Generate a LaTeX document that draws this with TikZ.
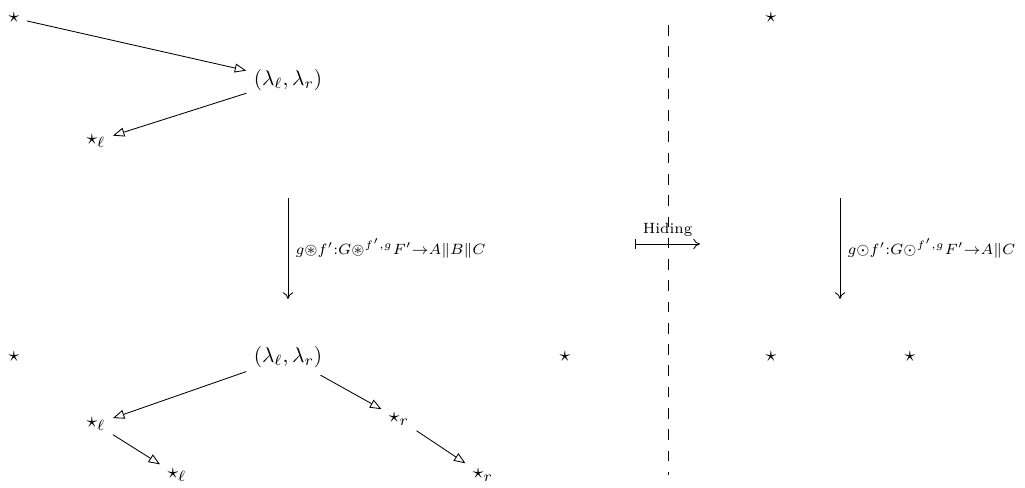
\documentclass[tikz,border=0pt]{standalone}
\usepackage{amsmath,amssymb}
\usetikzlibrary{arrows.meta}

\begin{document}
\begin{tikzpicture}[x=0.47pt, y=-0.47pt, >={To[length=3.2pt,width=5pt]},
  tri/.style={-{Triangle[open,length=5.4pt,width=4.2pt]}},
  maplabel/.style={right, font=\normalsize}]
  \useasboundingbox (0,0) rectangle (1025,487);
  % ------------------------------------------------------------------ left, before the move
  \node (st0) at (14,18) {$\star$};
  \node (lamA) at (288,80) {$(\lambda_\ell,\lambda_r)$};
  \node (stlA) at (96,141) {$\star_\ell$};
  \draw[tri] (st0) -- (lamA);
  \draw[tri] (lamA) -- (stlA);
  % ------------------------------------------------------------------ the composite map
  \coordinate (vA0) at (288,198);
  \coordinate (vA1) at (288,299);
  \draw[->] (vA0) -- node[maplabel] {$\scriptstyle g\circledast f':G\circledast^{f',g}F'\to A\|B\|C$} (vA1);
  % ------------------------------------------------------------------ left, after the move
  \node (st1) at (14,357) {$\star$};
  \node (lamB) at (288,357) {$(\lambda_\ell,\lambda_r)$};
  \node (stlB) at (96,424) {$\star_\ell$};
  \node (strB) at (399,419) {$\star_r$};
  \node (stlC) at (177,475) {$\star_\ell$};
  \node (strC) at (483,475) {$\star_r$};
  \node (st2) at (565,357) {$\star$};
  \draw[tri] (lamB) -- (stlB);
  \draw[tri] (lamB) -- (strB);
  \draw[tri] (stlB) -- (stlC);
  \draw[tri] (strB) -- (strC);
  % ------------------------------------------------------------------ hiding
  \coordinate (dsh0) at (668,25);
  \coordinate (dsh1) at (668,475);
  \draw[dash pattern=on 5pt off 5pt] (dsh0) -- (dsh1);
  \coordinate (hd0) at (635,244);
  \coordinate (hd1) at (700,244);
  \draw[|->] (hd0) -- node[above, font=\scriptsize] {Hiding} (hd1);
  % ------------------------------------------------------------------ right, hidden
  \node (st3) at (771,18) {$\star$};
  \coordinate (vB0) at (840,198);
  \coordinate (vB1) at (840,299);
  \draw[->] (vB0) -- node[maplabel] {$\scriptstyle g\odot f':G\odot^{f',g}F'\to A\|C$} (vB1);
  \node (st4) at (771,357) {$\star$};
  \node (st5) at (910,357) {$\star$};
\end{tikzpicture}
\end{document}
